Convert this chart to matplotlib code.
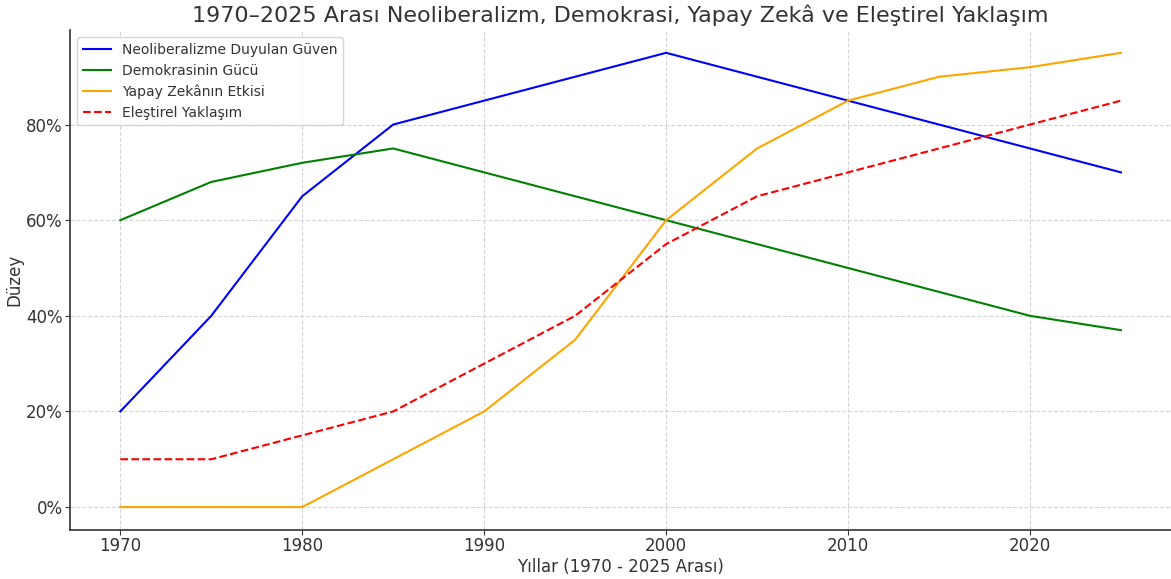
import matplotlib
matplotlib.use("Agg")
import matplotlib.pyplot as plt
from matplotlib.ticker import FuncFormatter

years = [1970, 1975, 1980, 1985, 1990, 1995, 2000, 2005, 2010, 2015, 2020, 2025]
neoliberalizm = [20, 40, 65, 80, 85, 90, 95, 90, 85, 80, 75, 70]
demokrasi = [60, 68, 72, 75, 70, 65, 60, 55, 50, 45, 40, 37]
yapay_zeka = [0, 0, 0, 10, 20, 35, 60, 75, 85, 90, 92, 95]
elestirel = [10, 10, 15, 20, 30, 40, 55, 65, 70, 75, 80, 85]

fig, ax = plt.subplots(figsize=(11.71, 5.79), dpi=100)

ax.plot(years, neoliberalizm, color='blue', linewidth=1.5, label='Neoliberalizme Duyulan Güven')
ax.plot(years, demokrasi, color='green', linewidth=1.5, label='Demokrasinin Gücü')
ax.plot(years, yapay_zeka, color='orange', linewidth=1.5, label='Yapay Zekânın Etkisi')
ax.plot(years, elestirel, color='red', linestyle='--', linewidth=1.5, label='Eleştirel Yaklaşım')

ax.set_title('1970–2025 Arası Neoliberalizm, Demokrasi, Yapay Zekâ ve Eleştirel Yaklaşım', fontsize=16, color='#333333')
ax.set_xlabel('Yıllar (1970 - 2025 Arası)', fontsize=12, color='#333333', labelpad=2)
ax.set_ylabel('Düzey', fontsize=12, color='#333333', labelpad=2)
ax.set_yticks([0, 20, 40, 60, 80])
ax.yaxis.set_major_formatter(FuncFormatter(lambda v, p: f'{v:.0f}%'))
ax.tick_params(labelsize=12, colors='#333333', pad=2)
ax.grid(True, linestyle='--', color='#d5d5d5', linewidth=0.8)
ax.spines['top'].set_visible(False)
ax.spines['right'].set_visible(False)
ax.spines['left'].set_color('#333333')
ax.spines['bottom'].set_color('#333333')
ax.spines['left'].set_linewidth(1.2)
ax.spines['bottom'].set_linewidth(1.2)
ax.legend(loc='upper left', fontsize=10, labelcolor='#333333')

plt.subplots_adjust(left=0.06, right=1.0, top=0.948, bottom=0.085)
plt.savefig('out.png', dpi=100)
